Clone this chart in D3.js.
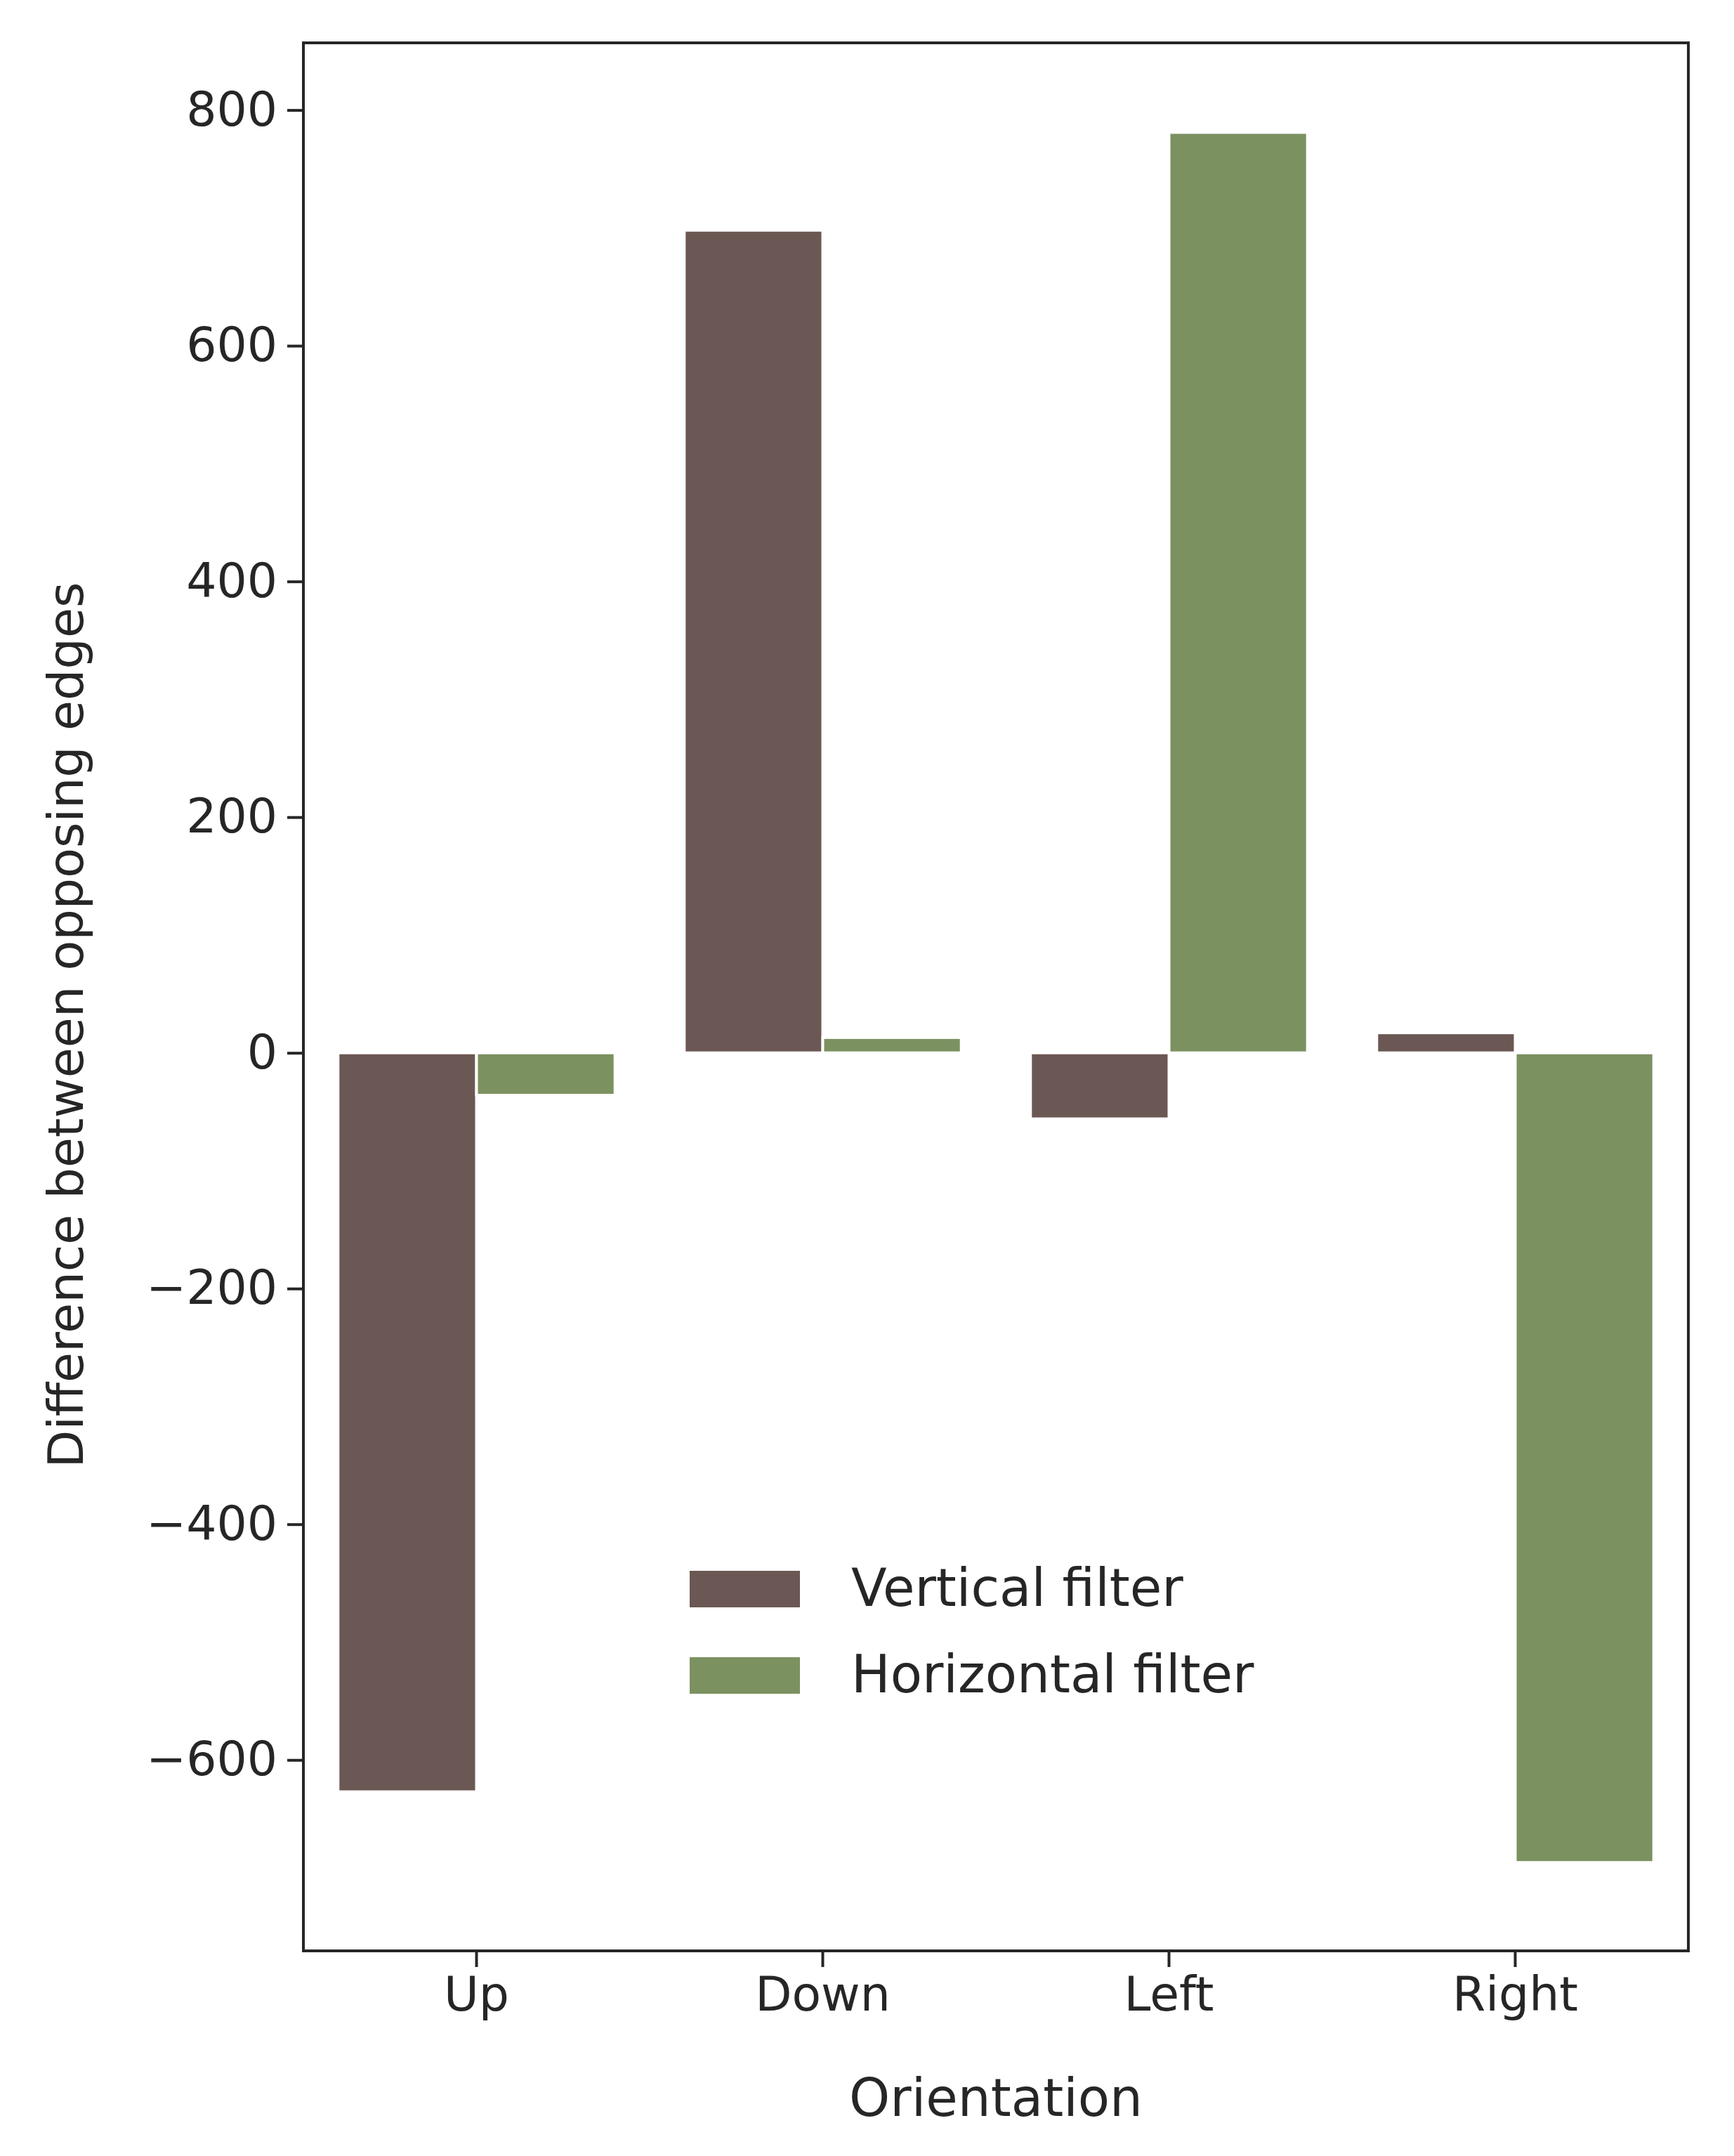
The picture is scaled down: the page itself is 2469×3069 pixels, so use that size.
<!DOCTYPE html>
<html>
<head>
<meta charset="utf-8">
<script src="https://cdn.jsdelivr.net/npm/d3@7"></script>
<style>
  body { margin: 0; background: #fff; }
  text { font-family: "DejaVu Sans", sans-serif; fill: #262626; }
</style>
</head>
<body>
<svg id="chart" width="2469" height="3069"></svg>
<script>
// Data
const categories = ['Up', 'Down', 'Left', 'Right'];
const seriesNames = ['Vertical filter', 'Horizontal filter'];
const verticalValues = [-627, 698, -56, 17];
const horizontalValues = [-36, 13, 781, -687];
const yTicks = [-600, -400, -200, 0, 200, 400, 600, 800];
const colours = ['#6b5753', '#7c9160'];

const svg = d3.select('#chart');
const margin = {left: 432, right: 65, top: 61, bottom: 292};
const W = 2469, H = 3069;
const innerW = W - margin.left - margin.right;
const innerH = H - margin.top - margin.bottom;

const x = d3.scaleBand().domain(categories).range([0, innerW]).padding(0);
const sub = d3.scaleBand().domain(seriesNames).range([0, x.bandwidth() * 0.8]);
const y = d3.scaleLinear().domain([-762, 857]).range([innerH, 0]);

const g = svg.append('g').attr('transform', `translate(${margin.left},${margin.top})`);

const rows = categories.map((c, i) => ({cat: c, vals: [verticalValues[i], horizontalValues[i]]}));

g.selectAll('g.grp').data(rows).join('g')
    .attr('class', 'grp')
    .attr('transform', d => `translate(${x(d.cat) + x.bandwidth() * 0.1},0)`)
    .selectAll('rect').data(d => d.vals.map((v, j) => ({v, j}))).join('rect')
        .attr('x', d => sub(seriesNames[d.j]))
        .attr('width', sub.bandwidth())
        .attr('y', d => y(Math.max(0, d.v)))
        .attr('height', d => Math.abs(y(d.v) - y(0)))
        .attr('fill', d => colours[d.j])
        .attr('stroke', '#fff')
        .attr('stroke-width', 4);

// Axes
const xAxis = g.append('g').attr('transform', `translate(0,${innerH})`)
    .call(d3.axisBottom(x).tickSize(23).tickPadding(14));
const yAxis = g.append('g')
    .call(d3.axisLeft(y).tickValues(yTicks).tickFormat(d => d < 0 ? '\u2212' + Math.abs(d) : d).tickSize(23).tickPadding(14));
[xAxis, yAxis].forEach(a => {
    a.select('.domain').remove();
    a.selectAll('line').attr('stroke', '#262626').attr('stroke-width', 4);
    a.selectAll('text').attr('font-size', 68).attr('fill', '#262626')
        .style('font-family', '"DejaVu Sans", sans-serif');
});

// Frame
g.append('rect').attr('width', innerW).attr('height', innerH)
    .attr('fill', 'none').attr('stroke', '#262626').attr('stroke-width', 4);

// Axis labels
svg.append('text').attr('x', margin.left + innerW / 2).attr('y', 3012)
    .attr('text-anchor', 'middle').attr('font-size', 74).text('Orientation');
svg.append('text').attr('transform', `translate(118,${margin.top + innerH / 2 + 40}) rotate(-90)`)
    .attr('text-anchor', 'middle').attr('font-size', 70).text('Difference between opposing edges');

// Legend
const legend = svg.append('g').attr('transform', 'translate(982,2236)');
seriesNames.forEach((name, i) => {
    legend.append('rect').attr('x', 0).attr('y', i * 123).attr('width', 157).attr('height', 52)
        .attr('fill', colours[i]);
    legend.append('text').attr('x', 230).attr('y', i * 123 + 50).attr('font-size', 74).text(name);
});
</script>
</body>
</html>
